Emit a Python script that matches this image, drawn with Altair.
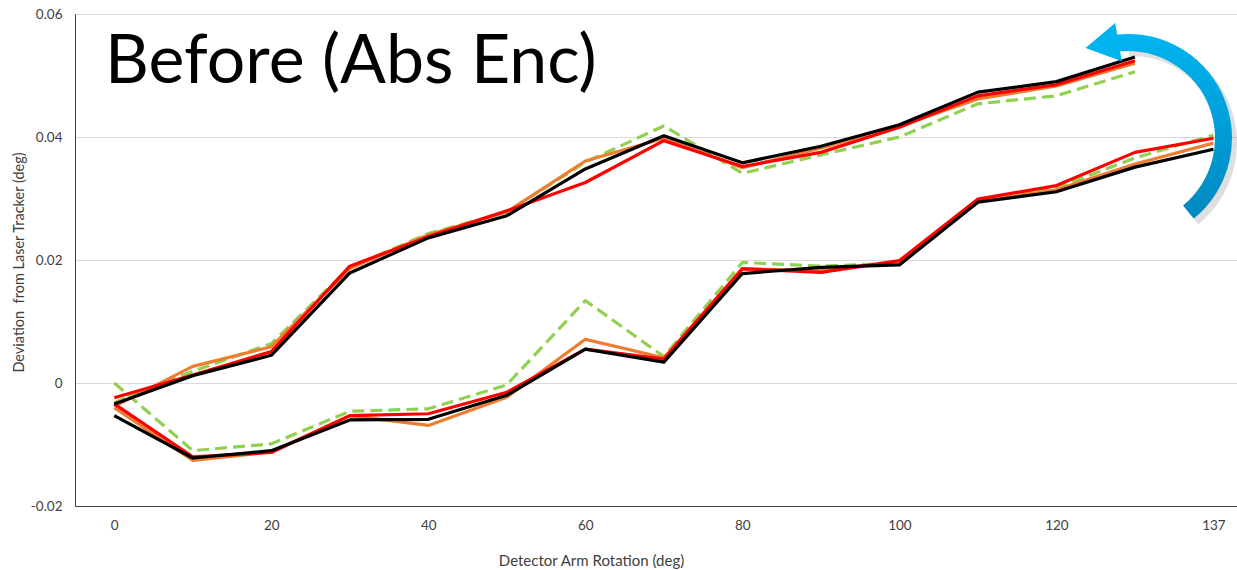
import altair as alt
import pandas as pd

# ---------------- data ----------------
angles = [0, 10, 20, 30, 40, 50, 60, 70, 80, 90, 100, 110, 120, 130, 137]
x_label_idx = [0, 2, 4, 6, 8, 10, 12, 14]

y_ticks = [-0.02, 0, 0.02, 0.04, 0.06]
y_tick_labels = ["-0.02", "0", "0.02", "0.04", "0.06"]

runs = ["Run 1", "Run 2", "Run 3", "Run 4"]          # green dashed, orange, red, black
run_colors = ["#92D050", "#ED7D31", "#FF0000", "#000000"]

# forward sweep 0 -> 137 (lower curves)
fwd_run1 = [0.0000, -0.0110, -0.0099, -0.0046, -0.0042, -0.0003, 0.0134, 0.0043, 0.0196, 0.0190, 0.0195, 0.0296, 0.0317, 0.0366, 0.0403]
fwd_run2 = [-0.0040, -0.0126, -0.0112, -0.0053, -0.0069, -0.0023, 0.0071, 0.0041, 0.0185, 0.0184, 0.0196, 0.0295, 0.0314, 0.0356, 0.0390]
fwd_run3 = [-0.0034, -0.0120, -0.0113, -0.0053, -0.0050, -0.0015, 0.0055, 0.0039, 0.0186, 0.0180, 0.0199, 0.0299, 0.0321, 0.0375, 0.0398]
fwd_run4 = [-0.0053, -0.0122, -0.0110, -0.0060, -0.0059, -0.0020, 0.0055, 0.0034, 0.0178, 0.0188, 0.0192, 0.0294, 0.0311, 0.0351, 0.0380]

# return sweep 130 -> 0 (upper curves)
ret_run1 = [-0.0032, 0.0019, 0.0064, 0.0188, 0.0243, 0.0278, 0.0359, 0.0418, 0.0341, 0.0371, 0.0400, 0.0454, 0.0467, 0.0506]
ret_run2 = [-0.0038, 0.0027, 0.0059, 0.0186, 0.0241, 0.0278, 0.0361, 0.0398, 0.0350, 0.0382, 0.0418, 0.0462, 0.0483, 0.0520]
ret_run3 = [-0.0024, 0.0013, 0.0051, 0.0190, 0.0238, 0.0280, 0.0326, 0.0394, 0.0352, 0.0375, 0.0416, 0.0467, 0.0485, 0.0524]
ret_run4 = [-0.0034, 0.0012, 0.0045, 0.0179, 0.0236, 0.0272, 0.0348, 0.0402, 0.0358, 0.0385, 0.0420, 0.0473, 0.0490, 0.0530]

fwd = [fwd_run1, fwd_run2, fwd_run3, fwd_run4]
ret = [ret_run1, ret_run2, ret_run3, ret_run4]

rows = []
for run, f, r in zip(runs, fwd, ret):
    for i, v in enumerate(f):
        rows.append({"run": run, "sweep": "forward", "idx": i, "angle": angles[i], "dev": v})
    for i, v in enumerate(r):
        rows.append({"run": run, "sweep": "return", "idx": i, "angle": angles[i], "dev": v})
df = pd.DataFrame(rows)

FONT = "Lato"
TXT = "#404040"

x_label_expr = "[" + ",".join("'%s'" % a for a in angles) + "][datum.value]"
y_label_expr = "[" + ",".join("'%s'" % s for s in y_tick_labels) + "][round((datum.value + 0.02) / 0.02)]"

x_enc = alt.X(
    "idx:Q",
    scale=alt.Scale(domain=[-0.5, 14.3], nice=False, zero=False),
    axis=alt.Axis(
        values=x_label_idx, labelExpr=x_label_expr, grid=False, ticks=False, tickSize=0,
        domainColor="#404040", domainWidth=1, labelPadding=12, labelFontSize=13.5,
        labelColor=TXT, labelFont=FONT, title="Detector Arm Rotation (deg)",
        titleFont=FONT, titleFontSize=15, titleFontWeight="normal", titleColor=TXT,
        titleX=516, titleY=54, titleBaseline="middle", titleAlign="center",
    ),
)
y_enc = alt.Y(
    "dev:Q",
    scale=alt.Scale(domain=[-0.02, 0.06], nice=False, zero=False),
    axis=alt.Axis(
        values=y_ticks, labelExpr=y_label_expr, grid=True, gridColor="#D9D9D9", gridWidth=1,
        ticks=False, tickSize=0, domainColor="#404040", domainWidth=1, labelPadding=13,
        labelFontSize=13.5, labelColor=TXT, labelFont=FONT,
        title="Deviation\u00a0 from Laser Tracker (deg)", titleFont=FONT, titleFontSize=14.5,
        titleFontWeight="normal", titleColor=TXT, titleX=-56, titleY=248,
        titleBaseline="middle", titleAlign="center", titleAngle=270,
    ),
)

layers = []
for run, col in zip(runs, run_colors):
    sub = df[df["run"] == run]
    if col == "#92D050":
        mk = alt.Chart(sub).mark_line(color=col, strokeWidth=3.2, strokeDash=[12, 6], strokeJoin="round")
    else:
        mk = alt.Chart(sub).mark_line(color=col, strokeWidth=3.2, strokeJoin="round")
    layers.append(mk.encode(x=x_enc, y=y_enc, detail="sweep:N", order="idx:Q"))

# annotation: big title text
label = alt.Chart(pd.DataFrame({"t": ["Before (Abs Enc)"]})).mark_text(
    align="left", baseline="alphabetic", font=FONT, fontSize=68, color="#000000"
).encode(text="t:N", x=alt.value(30), y=alt.value(69))

# annotation: curved blue arrow (with soft shadow)
grad = alt.LinearGradient(
    gradient="linear",
    stops=[alt.GradientStop(color="#00B4F0", offset=0), alt.GradientStop(color="#0088C0", offset=1)],
    x1=0, x2=0, y1=0, y2=1,
)
arrow_shadow = alt.Chart(pd.DataFrame({"a": [1]})).mark_arc(
    radius=105, radius2=87, theta=6.25, theta2=8.74, color="#7f7f7f", opacity=0.25
).encode(x=alt.value(1057), y=alt.value(129))
arrow_arc = alt.Chart(pd.DataFrame({"a": [1]})).mark_arc(
    radius=104, radius2=87, theta=6.10, theta2=8.74, color=grad
).encode(x=alt.value(1053), y=alt.value(124))
arrow_head = alt.Chart(pd.DataFrame({"a": [1]})).mark_point(
    shape="triangle-left", size=1500, filled=True, color="#00B4F0", opacity=1, angle=350
).encode(x=alt.value(1027), y=alt.value(31))

chart = alt.layer(*layers, label, arrow_shadow, arrow_arc, arrow_head).properties(
    width=1162, height=492,
    autosize=alt.AutoSizeParams(type="none"),
    padding={"left": 75, "top": 14, "right": 0, "bottom": 64},
).configure_view(stroke="#404040", strokeWidth=1)

chart.save("out.html", embed_options={"renderer": "svg", "actions": False})
